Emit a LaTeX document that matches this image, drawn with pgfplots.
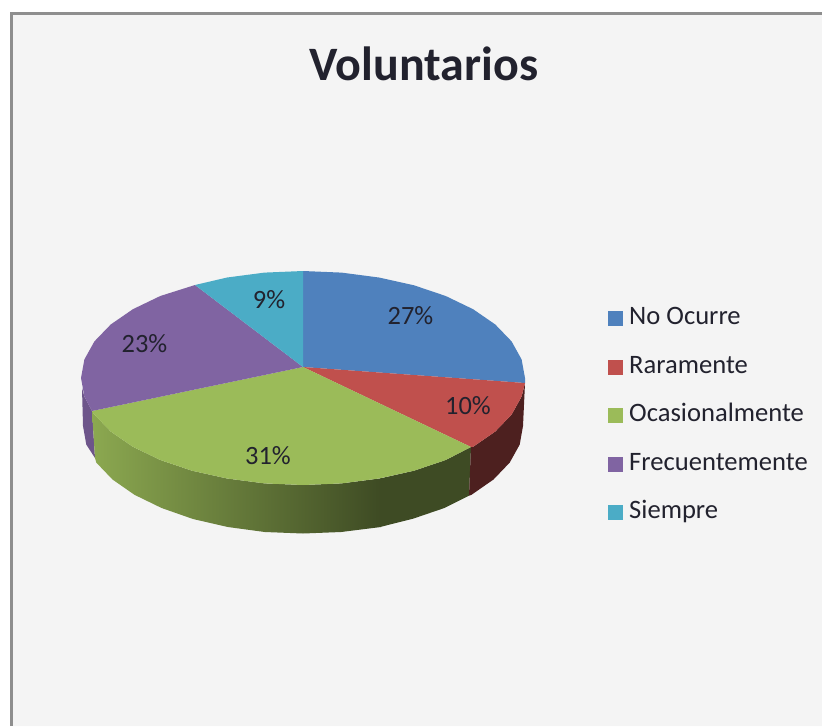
\documentclass[border=0pt]{standalone}
\usepackage{fontspec}
\setmainfont{Carlito}
\usepackage{pgfplots}
\pgfplotsset{compat=1.18}
\definecolor{cblue}{HTML}{4F81BD}
\definecolor{cred}{HTML}{C0504D}
\definecolor{cgreen}{HTML}{9BBB59}
\definecolor{cpurple}{HTML}{8064A2}
\definecolor{cteal}{HTML}{4BACC6}
\definecolor{bg}{HTML}{F4F4F4}
\definecolor{frame}{HTML}{8E8E8E}
\definecolor{ink}{HTML}{22222E}
\begin{document}
\begin{tikzpicture}
\path[use as bounding box] (0pt,0pt) rectangle (822pt,726pt);
\begin{axis}[
  at={(0pt,0pt)}, anchor=south west,
  scale only axis, width=822pt, height=726pt,
  xmin=0, xmax=822, ymin=0, ymax=726, y dir=reverse,
  axis lines=none, clip=true,
  legend cell align=left,
  legend image code/.code={\path[#1,draw=none] (0pt,-7.5pt) rectangle (15pt,7.5pt);},
  legend style={at={(axis cs:608,304.5)}, anchor=north west, draw=none, fill=none,
    font=\fontsize{26.6}{30}\selectfont, text=ink, row sep=20.5pt, inner sep=0pt,
    nodes={text height=18pt, text depth=6pt, inner xsep=6pt, inner ysep=2pt}},
]
% background and frame
\addplot[fill=bg, draw=none, forget plot] coordinates {(11,726)(11,13)(822,13)(822,726)(11,726)};
\addplot[draw=frame, line width=3pt, forget plot] coordinates {(11,726)(11,13)(822,13)};
% sides
\addplot[fill=cpurple!85!black, draw=none, forget plot] coordinates {(92,411)(84.4,396.6)(82,388)(83,426)(86.3,444.6)(95,458)(92,411)};
\addplot[left color=cgreen!90!black, right color=cgreen!40!black, draw=none, forget plot] coordinates {(92,411)(94.4,414.6)(110.7,431.5)(132.9,446.8)(160.3,460)(192,470.7)(227.1,478.5)(264.5,483.4)(303,485)(341.5,483.4)(381,478.3)(381,527)(341.2,532)(303,533.5)(264.8,532)(227.8,527)(193,519)(161.6,508)(134.5,494.8)(112.5,479.5)(96.3,462.6)(95,458)(92,411)};
\addplot[fill=cgreen!40!black, draw=none, forget plot] coordinates {(380,478.4)(414,470.7)(445.7,460)(471,447)(469,495.7)(444.4,508)(413,518.7)(380,527)(380,478.4)};
\addplot[fill=cred!40!black, draw=none, forget plot] coordinates {(471,447)(473.1,446.8)(495.3,431.5)(511.6,414.6)(521.6,396.6)(525,383)(523,426)(519.7,444.6)(509.7,462.6)(493.5,479.5)(471.5,494.8)(469,495.7)(471,447)};
% top faces
\addplot[fill=cblue, draw=none] coordinates {(303,367)(303,271)(341.5,272.6)(378.9,277.5)(414,285.3)(445.7,296)(473.1,309.2)(495.3,324.5)(511.6,341.4)(521.6,359.4)(525,378)(525,383)(303,367)};
\addplot[fill=cred, draw=none] coordinates {(303,367)(525,383)(521.6,396.6)(511.6,414.6)(495.3,431.5)(473.1,446.8)(471,447)(303,367)};
\addplot[fill=cgreen, draw=none] coordinates {(303,367)(471,447)(445.7,460)(414,470.7)(378.9,478.5)(341.5,483.4)(303,485)(264.5,483.4)(227.1,478.5)(192,470.7)(160.3,460)(132.9,446.8)(110.7,431.5)(94.4,414.6)(92,411)(303,367)};
\addplot[fill=cpurple, draw=none] coordinates {(303,367)(92,411)(84.4,396.6)(81,378)(84.4,359.4)(94.4,341.4)(110.7,324.5)(132.9,309.2)(160.3,296)(195,285)(303,367)};
\addplot[fill=cteal, draw=none] coordinates {(303,367)(195,285)(227.1,277.5)(264.5,272.6)(303,271)(303,367)};
\legend{No Ocurre,Raramente,Ocasionalmente,Frecuentemente,Siempre}
\node[text=ink, font=\fontsize{26.4}{30}\selectfont] at (axis cs:410.5,316) {27\%};
\node[text=ink, font=\fontsize{26.4}{30}\selectfont] at (axis cs:468,406) {10\%};
\node[text=ink, font=\fontsize{26.4}{30}\selectfont] at (axis cs:268,456) {31\%};
\node[text=ink, font=\fontsize{26.4}{30}\selectfont] at (axis cs:144.5,344) {23\%};
\node[text=ink, font=\fontsize{26.4}{30}\selectfont] at (axis cs:269,300) {9\%};
\node[text=ink, font=\fontsize{48}{52}\bfseries] at (axis cs:424,64) {Voluntarios};
\end{axis}
\end{tikzpicture}
\end{document}
